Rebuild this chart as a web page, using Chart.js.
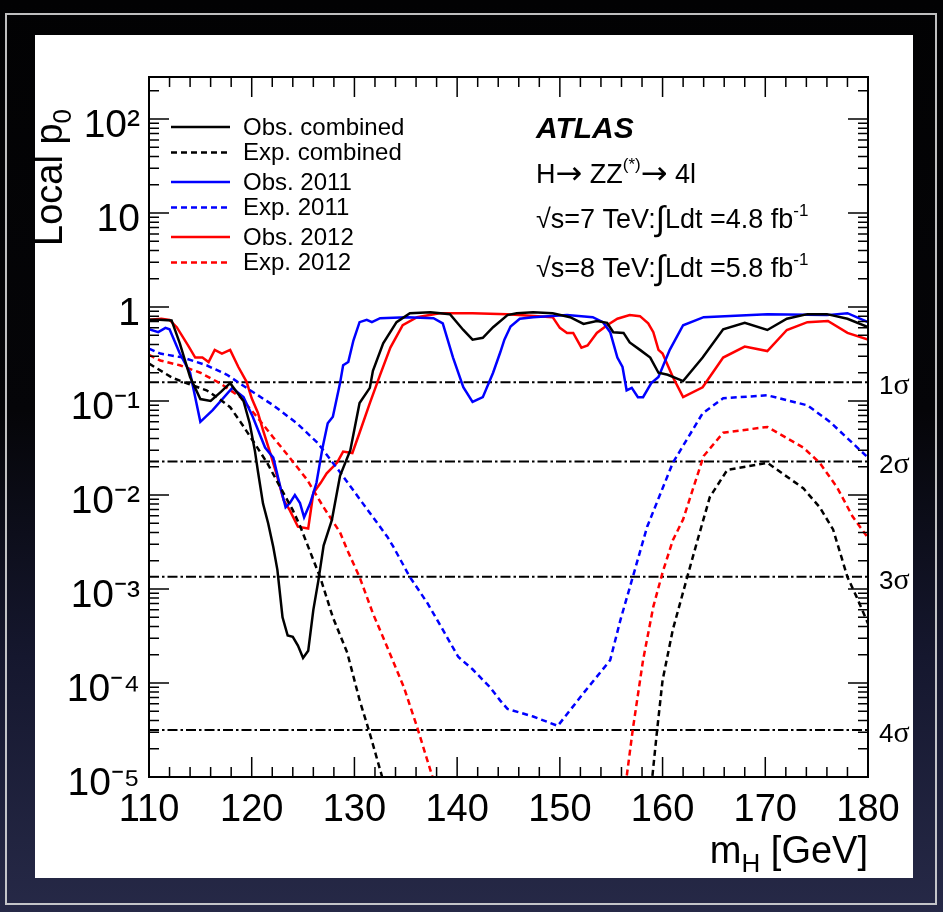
<!DOCTYPE html>
<html><head><meta charset="utf-8">
<script src="https://cdn.jsdelivr.net/npm/chart.js@4.4.1/dist/chart.umd.min.js"></script>
<style>
html,body{margin:0;padding:0;}
body{width:943px;height:912px;position:relative;overflow:hidden;background:linear-gradient(#020203 0%, #050508 45%, #15172e 72%, #262947 100%);}
#frame{position:absolute;left:5px;top:13px;width:932px;height:892px;border:2px solid rgba(225,225,225,0.85);box-sizing:border-box;}
#panel{position:absolute;left:35px;top:35px;width:878px;height:843px;background:#fff;}
canvas{position:absolute;left:0;top:0;}
</style></head><body>
<div id="frame"></div><div id="panel"></div>
<canvas id="c" width="943" height="912"></canvas>
<script>
// ---------------- DATA ----------------
const xTicks = [110, 120, 130, 140, 150, 160, 170, 180];
const yTickValues = [1e-5, 1e-4, 1e-3, 1e-2, 1e-1, 1, 10, 100];
const yTickLabels = ['10\u207B\u2075', '10\u207B\u2074', '10\u207B\u00B3', '10\u207B\u00B2', '10\u207B\u00B9', '1', '10', '10\u00B2'];
const Y_MIN = 1e-5, Y_MAX = 280;

const obsCombined = [[110,0.73],[111,0.73],[112.2,0.72],[113,0.41],[114,0.18],[115,0.105],[116,0.1],[117,0.125],[117.9,0.155],[119.2,0.10],[119.8,0.058],[120.3,0.03],[120.6,0.018],[121.1,0.0081],[121.6,0.005],[122.1,0.0028],[122.5,0.0016],[123.0,5e-4],[123.5,3.2e-4],[124.0,3.1e-4],[124.5,2.5e-4],[125.0,1.85e-4],[125.5,2.2e-4],[126.0,6e-4],[126.5,1.25e-3],[127.0,2.9e-3],[127.8,5.4e-3],[128.6,0.016],[129.6,0.030],[130.5,0.095],[131.5,0.138],[131.8,0.21],[132.8,0.41],[134.1,0.69],[135.4,0.86],[137.4,0.88],[139.3,0.84],[140.6,0.57],[141.5,0.45],[142.5,0.47],[143.5,0.61],[144.9,0.82],[145.8,0.86],[147.4,0.88],[149.3,0.86],[151.0,0.78],[152.3,0.66],[153.6,0.71],[154.6,0.68],[155.2,0.54],[156.2,0.53],[156.8,0.42],[157.8,0.35],[158.8,0.29],[159.6,0.20],[160.5,0.19],[162.0,0.163],[163.9,0.29],[165.9,0.58],[168.0,0.68],[170.2,0.57],[172.1,0.75],[174.1,0.84],[176.0,0.84],[178.0,0.75],[180,0.61]];

const expCombined = [[110,0.25],[112.3,0.176],[114,0.15],[115.6,0.13],[116.6,0.11],[117.9,0.086],[118.9,0.06],[120.1,0.038],[121.5,0.022],[122.8,0.012],[124.0,0.0069],[124.7,0.0047],[125.4,0.0030],[126.7,0.0013],[127.9,5e-4],[129.3,2.1e-4],[130.5,6.6e-5],[131.5,2.9e-5],[132.7,1e-5],[133.5,5e-6],[146,null],[158.5,5e-6],[159.0,1e-5],[159.5,3.4e-5],[160.0,1.07e-4],[161.0,3.7e-4],[162.4,1.34e-3],[163.4,3.3e-3],[164.6,0.0095],[166.3,0.0185],[170.2,0.022],[173.7,0.0118],[175.3,0.0074],[176.6,0.0043],[178.0,1.34e-3],[178.9,8.2e-4],[180,4.3e-4]];

const obs2011 = [[110,0.58],[110.9,0.54],[111.6,0.6],[112,0.58],[113,0.32],[114,0.2],[115,0.06],[116.2,0.08],[118.1,0.138],[119.2,0.11],[120.1,0.068],[121.3,0.032],[122.1,0.025],[122.8,0.012],[123.3,0.0074],[123.7,0.0082],[124.2,0.01],[124.7,0.0082],[125.1,0.0058],[125.7,0.0082],[126.3,0.0134],[126.9,0.032],[127.4,0.058],[127.9,0.068],[128.6,0.155],[128.9,0.24],[129.4,0.26],[129.9,0.44],[130.5,0.69],[131.2,0.73],[131.7,0.69],[132.5,0.76],[135.1,0.78],[137.7,0.76],[138.6,0.67],[139.6,0.29],[140.6,0.14],[141.5,0.098],[142.5,0.11],[143.5,0.2],[144.2,0.33],[144.6,0.45],[145.2,0.62],[146.1,0.75],[147.4,0.78],[150.7,0.82],[153.2,0.78],[154.2,0.69],[154.9,0.54],[155.6,0.29],[156.1,0.23],[156.5,0.13],[157.0,0.138],[157.6,0.11],[158.1,0.11],[158.9,0.155],[159.6,0.18],[160.7,0.35],[162.0,0.64],[164.0,0.78],[170.2,0.84],[176.0,0.82],[178.0,0.86],[180,0.69]];

const exp2011 = [[110,0.36],[111.1,0.32],[113.3,0.29],[115.6,0.24],[117.6,0.19],[119.5,0.138],[122.1,0.09],[124.4,0.058],[126.4,0.036],[128.6,0.0175],[130.8,0.0082],[133.2,0.0036],[133.8,0.0028],[135.4,0.00134],[137.1,7.1e-4],[138.6,3.7e-4],[140.1,1.9e-4],[141.5,1.4e-4],[143.2,9e-5],[144.2,6.5e-5],[144.9,5.3e-5],[147.4,4.4e-5],[149.8,3.5e-5],[152.3,7.8e-5],[154.9,1.75e-4],[155.9,4.7e-4],[157.1,1.34e-3],[158.5,4.6e-3],[161.0,0.022],[163.9,0.074],[165.9,0.107],[170.2,0.115],[174.1,0.09],[176.3,0.06],[180,0.025]];

const obs2012 = [[110,0.73],[111.2,0.75],[112,0.73],[112.7,0.61],[113.8,0.39],[114.5,0.29],[115.2,0.29],[115.8,0.26],[116.4,0.35],[117.1,0.32],[117.9,0.35],[118.7,0.23],[119.5,0.16],[120.0,0.107],[120.6,0.075],[121.1,0.049],[121.8,0.028],[122.5,0.0155],[123.1,0.0089],[123.7,0.0069],[124.5,0.0046],[125.5,0.0044],[126.0,0.0105],[126.7,0.0134],[127.3,0.017],[128.3,0.022],[128.9,0.029],[129.8,0.028],[130.5,0.046],[131.5,0.095],[132.5,0.19],[133.5,0.37],[134.7,0.64],[136.1,0.78],[138.3,0.86],[141.5,0.86],[144.9,0.84],[149.3,0.78],[150.0,0.6],[150.7,0.53],[151.3,0.53],[152.1,0.37],[152.7,0.39],[153.6,0.53],[154.6,0.64],[155.6,0.75],[156.8,0.82],[157.8,0.8],[158.6,0.67],[159.1,0.54],[159.6,0.35],[160.0,0.32],[161.0,0.18],[162.0,0.11],[163.9,0.14],[165.9,0.29],[168.0,0.38],[170.2,0.34],[172.1,0.57],[174.1,0.69],[176.1,0.71],[178.0,0.53],[180,0.45]];

const exp2012 = [[110,0.31],[111.1,0.27],[113,0.24],[115,0.2],[116.9,0.155],[118.9,0.11],[120.5,0.068],[122.1,0.041],[123.7,0.025],[125.4,0.0145],[127.0,0.0074],[128.6,0.004],[129.3,0.0026],[130.5,0.00134],[131.8,5.5e-4],[133.2,2.4e-4],[134.8,9.1e-5],[136.1,3.4e-5],[137.6,1e-5],[138.3,5e-6],[147,null],[156.2,5e-6],[156.5,1e-5],[157.1,3.2e-5],[158.1,1.75e-4],[159.1,6.5e-4],[160.0,1.5e-3],[161.0,3.3e-3],[162.0,5.5e-3],[163.0,0.012],[164.0,0.026],[165.9,0.046],[170.2,0.053],[173.7,0.032],[175.3,0.022],[177,0.012],[178.5,0.0059],[180,0.0035]];

const sigmaP = [0.158655, 0.02275, 0.0013499, 3.1671e-5];
const sigmaLabels = ['1', '2', '3', '4'];

const legendLabels = ['Obs. combined', 'Exp. combined', 'Obs. 2011', 'Exp. 2011', 'Obs. 2012', 'Exp. 2012'];

// ---------------- CHART ----------------
const SANS = "'Liberation Sans', Arial, Helvetica, sans-serif";
const SERIF = "'Liberation Serif', 'Times New Roman', serif";
const ARROW = "'DejaVu Sans', sans-serif";
const toXY = arr => arr.map(p => ({x: p[0], y: p[1]}));
const DASH = [6, 4];

function curve(label, arr, color, dashed) {
  return { label, data: toXY(arr), borderColor: color, backgroundColor: color,
    borderWidth: 2.5, borderDash: dashed ? DASH : [], pointRadius: 0, fill: false, tension: 0, spanGaps: false };
}
const datasets = [
  curve(legendLabels[0], obsCombined, '#000000', false),
  curve(legendLabels[1], expCombined, '#000000', true),
  curve(legendLabels[2], obs2011, '#0000ff', false),
  curve(legendLabels[3], exp2011, '#0000ff', true),
  curve(legendLabels[4], obs2012, '#ff0000', false),
  curve(legendLabels[5], exp2012, '#ff0000', true)
];
sigmaP.forEach((p, i) => {
  datasets.push({ label: sigmaLabels[i] + '\u03C3', isSigma: true, sigmaText: sigmaLabels[i],
    data: [{x: xTicks[0], y: p}, {x: xTicks[xTicks.length - 1], y: p}],
    borderColor: '#000', borderWidth: 2, borderDash: [10, 3, 2.5, 3], pointRadius: 0, fill: false });
});

function rich(ctx, x, y, segs, align) {
  let w = 0;
  segs.forEach(s => { ctx.font = s.font; s.w = ctx.measureText(s.t).width; w += s.w + (s.dx || 0); });
  let cx = align === 'right' ? x - w : x;
  segs.forEach(s => { ctx.font = s.font; cx += (s.dx || 0); ctx.fillText(s.t, cx, y + (s.dy || 0)); cx += s.w; });
}

const decorPlugin = {
  id: 'decor',
  afterDraw(chart) {
    const ctx = chart.ctx, a = chart.chartArea, xs = chart.scales.x, ys = chart.scales.y;
    ctx.save();
    ctx.strokeStyle = '#000'; ctx.fillStyle = '#000'; ctx.setLineDash([]);
    // ticks (inward, ROOT style)
    ctx.lineWidth = 1.5;
    ctx.beginPath();
    for (let v = 110; v <= 180; v += 2) {
      const px = xs.getPixelForValue(v), len = (v % 10 === 0) ? 20 : 10;
      ctx.moveTo(px, a.bottom); ctx.lineTo(px, a.bottom - len);
      ctx.moveTo(px, a.top); ctx.lineTo(px, a.top + len);
    }
    for (let e = -5; e <= 2; e++) {
      for (let k = 1; k <= 9; k++) {
        const v = k * Math.pow(10, e);
        if (v < Y_MIN * 0.999 || v > Y_MAX) continue;
        const py = ys.getPixelForValue(v), len = k === 1 ? 20 : 10;
        ctx.moveTo(a.left, py); ctx.lineTo(a.left + len, py);
        ctx.moveTo(a.right, py); ctx.lineTo(a.right - len, py);
      }
    }
    ctx.stroke();
    // frame
    ctx.lineWidth = 2;
    ctx.strokeRect(a.left, a.top, a.right - a.left, a.bottom - a.top);

    // axis titles
    ctx.textBaseline = 'alphabetic'; ctx.textAlign = 'left';
    rich(ctx, a.right, a.bottom + 86, [
      {t: 'm', font: `38px ${SANS}`},
      {t: 'H', font: `26px ${SANS}`, dy: 9},
      {t: ' [GeV]', font: `38px ${SANS}`}
    ], 'right');
    ctx.save();
    ctx.translate(62, 246); ctx.rotate(-Math.PI / 2);
    rich(ctx, 0, 0, [
      {t: 'Local p', font: `38px ${SANS}`},
      {t: '0', font: `26px ${SANS}`, dy: 9}
    ], 'left');
    ctx.restore();

    // legend
    const lx0 = 171, lx1 = 230, tx = 243;
    chart.data.datasets.forEach((ds, i) => {
      if (ds.isSigma) return;
      const y = 127 + Math.floor(i / 2) * 55 + (i % 2) * 25.5;
      ctx.strokeStyle = ds.borderColor; ctx.lineWidth = ds.borderWidth;
      ctx.setLineDash(ds.borderDash || []);
      ctx.beginPath(); ctx.moveTo(lx0, y); ctx.lineTo(lx1, y); ctx.stroke();
      ctx.setLineDash([]);
      ctx.fillStyle = '#000'; ctx.font = `24px ${SANS}`; ctx.textBaseline = 'middle';
      ctx.fillText(ds.label, tx, y + 1);
    });

    // sigma labels
    ctx.textBaseline = 'alphabetic'; ctx.fillStyle = '#000';
    chart.data.datasets.forEach(ds => {
      if (!ds.isSigma) return;
      const py = ys.getPixelForValue(ds.data[0].y);
      rich(ctx, a.right + 11, py + 12, [
        {t: ds.sigmaText, font: `26px ${SANS}`},
        {t: '\u03C3', font: `30px ${SERIF}`}
      ]);
    });

    // ATLAS label block
    const bx = 536;
    ctx.font = `italic bold 30px ${SANS}`;
    ctx.fillText('ATLAS', bx, 138);
    rich(ctx, bx, 183, [
      {t: 'H', font: `27px ${SANS}`},
      {t: '\u2192', font: `32px ${ARROW}`, dy: 1},
      {t: ' ZZ', font: `27px ${SANS}`},
      {t: '(*)', font: `17px ${SANS}`, dy: -13},
      {t: '\u2192', font: `32px ${ARROW}`, dy: 1},
      {t: ' 4l', font: `27px ${SANS}`}
    ]);
    const lumi = [['7', '4.8', 228], ['8', '5.8', 277]];
    lumi.forEach(l => {
      rich(ctx, bx, l[2], [
        {t: '\u221As=' + l[0] + ' TeV:', font: `27px ${SANS}`},
        {t: '\u222B', font: `34px ${SANS}`, dy: 2},
        {t: 'Ldt =' + l[1] + ' fb', font: `27px ${SANS}`},
        {t: '-1', font: `17px ${SANS}`, dy: -12}
      ]);
    });
    ctx.restore();
  }
};

new Chart(document.getElementById('c'), {
  type: 'line',
  data: { datasets },
  options: {
    responsive: false, animation: false, devicePixelRatio: 1,
    layout: { padding: { left: 0, right: 75, top: 77, bottom: 0 } },
    plugins: { legend: { display: false }, tooltip: { enabled: false }, title: { display: false } },
    scales: {
      x: {
        type: 'linear', min: xTicks[0], max: xTicks[xTicks.length - 1],
        grid: { display: false, drawTicks: false }, border: { display: false },
        afterBuildTicks: s => { s.ticks = xTicks.map(v => ({value: v})); },
        ticks: { font: { family: SANS, size: 38 }, color: '#000', padding: 11, autoSkip: false, maxRotation: 0,
          callback: v => String(v) },
        afterFit: s => { s.height = 135; }
      },
      y: {
        type: 'logarithmic', min: Y_MIN, max: Y_MAX,
        grid: { display: false, drawTicks: false }, border: { display: false },
        afterBuildTicks: s => { s.ticks = yTickValues.map(v => ({value: v})); },
        ticks: { font: { family: SANS, size: 39 }, color: '#000', padding: 9, labelOffset: 7, autoSkip: false,
          callback: v => { const i = yTickValues.findIndex(t => Math.abs(Math.log10(t) - Math.log10(v)) < 1e-6); return i >= 0 ? yTickLabels[i] : ''; } },
        afterFit: s => { s.width = 149; }
      }
    }
  },
  plugins: [decorPlugin]
});
</script></body></html>
